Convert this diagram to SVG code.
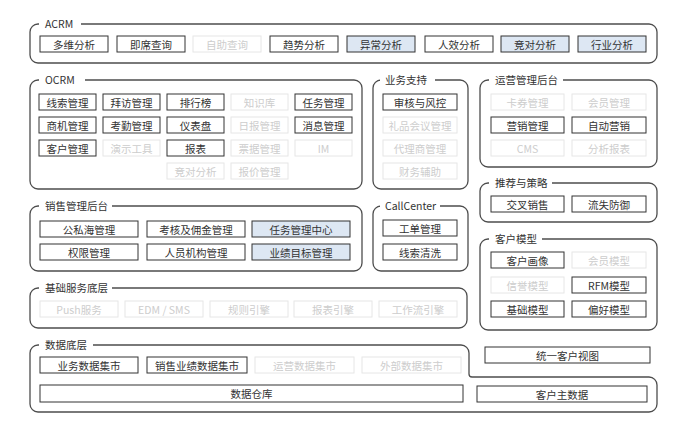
<svg xmlns="http://www.w3.org/2000/svg" width="682" height="427" viewBox="0 0 682 427">
<style>
.frame{fill:none;stroke:#4d4d4d;stroke-width:1.3}
.mask{fill:#fff}
.ft{font-family:"Noto Sans CJK SC","Liberation Sans",sans-serif;font-size:10.5px;fill:#333}
.b{fill:#fff;stroke:#333;stroke-width:1}
.h{fill:#dde7f3;stroke:#333;stroke-width:1}
.d{fill:#fff;stroke:#e6e6e6;stroke-width:1}
.t{font-family:"Noto Sans CJK SC","Liberation Sans",sans-serif;font-size:10.5px;fill:#333;text-anchor:middle;dominant-baseline:central}
.td{fill:#cdcdcd}
</style>
<rect width="682" height="427" fill="#fff"/>

<g id="acrm">
<rect class="frame" x="30" y="24" width="627" height="39" rx="8"/>
<rect class="mask" x="39" y="18" width="42" height="12"/>
<text class="ft" x="45" y="28">ACRM</text>
<rect class="b" x="40" y="36" width="68" height="16"/><text class="t" x="74" y="44">多维分析</text>
<rect class="b" x="117" y="36" width="68" height="16"/><text class="t" x="151" y="44">即席查询</text>
<rect class="d" x="193" y="36" width="68" height="16"/><text class="t td" x="227" y="44">自助查询</text>
<rect class="b" x="270" y="36" width="68" height="16"/><text class="t" x="304" y="44">趋势分析</text>
<rect class="h" x="347" y="36" width="68" height="16"/><text class="t" x="381" y="44">异常分析</text>
<rect class="b" x="425" y="36" width="68" height="16"/><text class="t" x="459" y="44">人效分析</text>
<rect class="h" x="501" y="36" width="68" height="16"/><text class="t" x="535" y="44">竞对分析</text>
<rect class="h" x="578" y="36" width="68" height="16"/><text class="t" x="612" y="44">行业分析</text>
</g>

<g id="ocrm">
<rect class="frame" x="30" y="80" width="332" height="109" rx="8"/>
<rect class="mask" x="39" y="74" width="46" height="12"/>
<text class="ft" x="45" y="84">OCRM</text>
<rect class="b" x="39" y="94" width="57" height="16"/><text class="t" x="67.5" y="102">线索管理</text>
<rect class="b" x="103" y="94" width="57" height="16"/><text class="t" x="131.5" y="102">拜访管理</text>
<rect class="b" x="167" y="94" width="57" height="16"/><text class="t" x="195.5" y="102">排行榜</text>
<rect class="d" x="231" y="94" width="57" height="16"/><text class="t td" x="259.5" y="102">知识库</text>
<rect class="b" x="295" y="94" width="57" height="16"/><text class="t" x="323.5" y="102">任务管理</text>
<rect class="b" x="39" y="117" width="57" height="16"/><text class="t" x="67.5" y="125">商机管理</text>
<rect class="b" x="103" y="117" width="57" height="16"/><text class="t" x="131.5" y="125">考勤管理</text>
<rect class="b" x="167" y="117" width="57" height="16"/><text class="t" x="195.5" y="125">仪表盘</text>
<rect class="d" x="231" y="117" width="57" height="16"/><text class="t td" x="259.5" y="125">日报管理</text>
<rect class="b" x="295" y="117" width="57" height="16"/><text class="t" x="323.5" y="125">消息管理</text>
<rect class="b" x="39" y="140" width="57" height="16"/><text class="t" x="67.5" y="148">客户管理</text>
<rect class="d" x="103" y="140" width="57" height="16"/><text class="t td" x="131.5" y="148">演示工具</text>
<rect class="b" x="167" y="140" width="57" height="16"/><text class="t" x="195.5" y="148">报表</text>
<rect class="d" x="231" y="140" width="57" height="16"/><text class="t td" x="259.5" y="148">票据管理</text>
<rect class="d" x="295" y="140" width="57" height="16"/><text class="t td" x="323.5" y="148">IM</text>
<rect class="d" x="167" y="163" width="57" height="16"/><text class="t td" x="195.5" y="171">竞对分析</text>
<rect class="d" x="231" y="163" width="57" height="16"/><text class="t td" x="259.5" y="171">报价管理</text>
</g>

<g id="yewu">
<rect class="frame" x="373" y="80" width="95" height="109" rx="8"/>
<rect class="mask" x="380" y="74" width="55" height="12"/>
<text class="ft" x="385" y="84">业务支持</text>
<rect class="b" x="383" y="94" width="74" height="16"/><text class="t" x="420" y="102">审核与风控</text>
<rect class="d" x="383" y="117" width="74" height="16"/><text class="t td" x="420" y="125">礼品会议管理</text>
<rect class="d" x="383" y="140" width="74" height="16"/><text class="t td" x="420" y="148">代理商管理</text>
<rect class="d" x="383" y="163" width="74" height="16"/><text class="t td" x="420" y="171">财务辅助</text>
</g>

<g id="yunying">
<rect class="frame" x="480" y="80" width="177" height="87" rx="8"/>
<rect class="mask" x="489" y="74" width="74" height="12"/>
<text class="ft" x="495" y="84">运营管理后台</text>
<rect class="d" x="491" y="94" width="73" height="16"/><text class="t td" x="527.5" y="102">卡券管理</text>
<rect class="d" x="572" y="94" width="74" height="16"/><text class="t td" x="609" y="102">会员管理</text>
<rect class="b" x="491" y="117" width="73" height="16"/><text class="t" x="527.5" y="125">营销管理</text>
<rect class="b" x="572" y="117" width="74" height="16"/><text class="t" x="609" y="125">自动营销</text>
<rect class="d" x="491" y="140" width="73" height="16"/><text class="t td" x="527.5" y="148">CMS</text>
<rect class="d" x="572" y="140" width="74" height="16"/><text class="t td" x="609" y="148">分析报表</text>
</g>

<g id="tuijian">
<rect class="frame" x="480" y="183" width="177" height="39" rx="8"/>
<rect class="mask" x="489" y="177" width="63" height="12"/>
<text class="ft" x="495" y="187">推荐与策略</text>
<rect class="b" x="491" y="196" width="73" height="16"/><text class="t" x="527.5" y="204">交叉销售</text>
<rect class="b" x="572" y="196" width="74" height="16"/><text class="t" x="609" y="204">流失防御</text>
</g>

<g id="xiaoshou">
<rect class="frame" x="30" y="206" width="332" height="65" rx="8"/>
<rect class="mask" x="39" y="200" width="73" height="12"/>
<text class="ft" x="45" y="210">销售管理后台</text>
<rect class="b" x="40" y="221" width="98" height="16"/><text class="t" x="89" y="229">公私海管理</text>
<rect class="b" x="147" y="221" width="98" height="16"/><text class="t" x="196" y="229">考核及佣金管理</text>
<rect class="h" x="252" y="221" width="98" height="16"/><text class="t" x="301" y="229">任务管理中心</text>
<rect class="b" x="40" y="244" width="98" height="16"/><text class="t" x="89" y="252">权限管理</text>
<rect class="b" x="147" y="244" width="98" height="16"/><text class="t" x="196" y="252">人员机构管理</text>
<rect class="h" x="252" y="244" width="98" height="16"/><text class="t" x="301" y="252">业绩目标管理</text>
</g>

<g id="callcenter">
<rect class="frame" x="373" y="206" width="95" height="65" rx="8"/>
<rect class="mask" x="380" y="200" width="60" height="12"/>
<text class="ft" x="385" y="210">CallCenter</text>
<rect class="b" x="383" y="220" width="74" height="16"/><text class="t" x="420" y="228">工单管理</text>
<rect class="b" x="383" y="244" width="74" height="16"/><text class="t" x="420" y="252">线索清洗</text>
</g>

<g id="kehumoxing">
<rect class="frame" x="480" y="239" width="177" height="91" rx="8"/>
<rect class="mask" x="489" y="233" width="53" height="12"/>
<text class="ft" x="495" y="243">客户模型</text>
<rect class="b" x="491" y="252" width="73" height="16"/><text class="t" x="527.5" y="260">客户画像</text>
<rect class="d" x="572" y="252" width="74" height="16"/><text class="t td" x="609" y="260">会员模型</text>
<rect class="d" x="491" y="277" width="73" height="16"/><text class="t td" x="527.5" y="285">信誉模型</text>
<rect class="b" x="572" y="277" width="74" height="16"/><text class="t" x="609" y="285">RFM模型</text>
<rect class="b" x="491" y="301" width="73" height="16"/><text class="t" x="527.5" y="309">基础模型</text>
<rect class="b" x="572" y="301" width="74" height="16"/><text class="t" x="609" y="309">偏好模型</text>
</g>

<g id="jichu">
<rect class="frame" x="30" y="288" width="437" height="40" rx="8"/>
<rect class="mask" x="39" y="282" width="73" height="12"/>
<text class="ft" x="45" y="292">基础服务底层</text>
<rect class="d" x="40" y="301" width="78" height="16"/><text class="t td" x="79" y="309">Push服务</text>
<rect class="d" x="125" y="301" width="78" height="16"/><text class="t td" x="164" y="309">EDM / SMS</text>
<rect class="d" x="210" y="301" width="78" height="16"/><text class="t td" x="249" y="309">规则引擎</text>
<rect class="d" x="294" y="301" width="78" height="16"/><text class="t td" x="333" y="309">报表引擎</text>
<rect class="d" x="379" y="301" width="78" height="16"/><text class="t td" x="418" y="309">工作流引擎</text>
</g>

<g id="shuju">
<path class="frame" d="M38,345 H461 A8,8 0 0 1 469,353 V374 A3,3 0 0 0 472,377 H649 A8,8 0 0 1 657,385 V404 A8,8 0 0 1 649,412 H38 A8,8 0 0 1 30,404 V353 A8,8 0 0 1 38,345 Z"/>
<rect class="mask" x="39" y="339" width="54" height="12"/>
<text class="ft" x="45" y="349">数据底层</text>
<rect class="b" x="40" y="357" width="98" height="16"/><text class="t" x="89" y="365">业务数据集市</text>
<rect class="b" x="147" y="357" width="100" height="16"/><text class="t" x="197" y="365">销售业绩数据集市</text>
<rect class="d" x="255" y="357" width="99" height="16"/><text class="t td" x="304.5" y="365">运营数据集市</text>
<rect class="d" x="362" y="357" width="99" height="16"/><text class="t td" x="411.5" y="365">外部数据集市</text>
<rect class="b" x="40" y="385" width="423" height="17"/><text class="t" x="251.5" y="393.5">数据仓库</text>
<rect class="b" x="477" y="386" width="170" height="16"/><text class="t" x="562" y="394">客户主数据</text>
</g>

<g id="tongyi">
<rect class="b" x="485" y="347" width="165" height="16"/><text class="t" x="567.5" y="355">统一客户视图</text>
</g>

<g id="connectors"></g>
</svg>
